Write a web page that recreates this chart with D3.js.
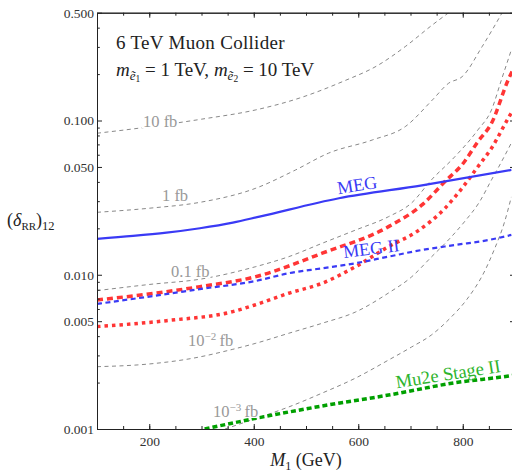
<!DOCTYPE html>
<html>
<head>
<meta charset="utf-8">
<script src="https://cdn.jsdelivr.net/npm/d3@7"></script>
<style>
body { margin: 0; background: #fff; }
svg { display: block; font-family: "Liberation Serif", "DejaVu Serif", serif; }
</style>
</head>
<body>
<svg width="512" height="474"></svg>
<script>
// cross section contours (fb), M1 in GeV vs (delta_RR)_12
var m10fb = [100, 200, 300, 404, 487, 570, 639, 690, 742, 780];
var v10fb = [0.0827, 0.091, 0.102, 0.1172, 0.1396, 0.1788, 0.2294, 0.3016, 0.417, 0.52];

var m1fb = [100, 200, 300, 404, 480, 543, 627, 690, 742, 773, 799, 837, 875];
var v1fb = [0.0254, 0.027, 0.0296, 0.0364, 0.0478, 0.0614, 0.0748, 0.0913, 0.136, 0.1745, 0.1926, 0.301, 0.497];

var m01fb = [100, 200, 300, 404, 467, 531, 595, 658, 702, 740, 785, 829, 855, 874, 893];
var v01fb = [0.00789, 0.00865, 0.00939, 0.01129, 0.0131, 0.016, 0.0195, 0.0238, 0.0292, 0.0412, 0.0583, 0.0869, 0.1172, 0.1834, 0.287];

var m001fb = [100, 200, 283, 360, 404, 467, 531, 595, 658, 702, 740, 778, 803, 832, 855, 874, 893];
var v001fb = [0.002535, 0.00264, 0.002874, 0.003287, 0.003596, 0.004175, 0.004849, 0.005739, 0.007621, 0.00968, 0.01304, 0.01759, 0.022, 0.02966, 0.0412, 0.0539, 0.0715];

var m0001fb = [345, 404, 467, 531, 595, 658, 702, 740, 778, 807, 843, 860, 880, 893];
var v0001fb = [0.001, 0.00117, 0.00139, 0.00171, 0.00214, 0.0028, 0.0034, 0.00407, 0.00532, 0.00686, 0.01074, 0.01448, 0.022, 0.03195];

// red dotted curves
var mRedA = [100, 233, 297, 404, 531, 658, 722, 766, 801, 829, 855, 887, 895];
var vRedA = [0.00686, 0.00777, 0.00837, 0.00972, 0.01379, 0.02051, 0.02836, 0.0402, 0.05285, 0.073, 0.096, 0.1834, 0.21];
var mRedB = [100, 233, 360, 404, 467, 531, 595, 658, 712, 766, 801, 829, 855, 887, 895];
var vRedB = [0.00461, 0.00504, 0.00577, 0.0064, 0.00759, 0.00881, 0.01129, 0.01521, 0.01903, 0.027, 0.0373, 0.0502, 0.0661, 0.1035, 0.115];

// experimental bounds
var mMEG = [100, 169, 233, 297, 360, 411, 563, 722, 893];
var vMEG = [0.0171, 0.01785, 0.01875, 0.02003, 0.02177, 0.02381, 0.03134, 0.038, 0.0478];
var mMEG2 = [100, 200, 300, 404, 467, 531, 595, 658, 722, 786, 850, 893];
var vMEG2 = [0.00647, 0.00722, 0.0081, 0.00912, 0.01023, 0.01102, 0.01188, 0.01311, 0.01448, 0.01561, 0.01681, 0.01812];
var mMu2e = [306, 404, 531, 658, 786, 888, 900];
var vMu2e = [0.001, 0.001173, 0.00141, 0.00166, 0.001997, 0.002207, 0.00224];

// ticks
var xMajor = [200, 400, 600, 800];
var xMinor = d3.range(100, 901, 50);
var yMajor = [0.001, 0.005, 0.01, 0.05, 0.1, 0.5];
var yMinor = [0.002, 0.003, 0.004, 0.006, 0.007, 0.008, 0.009, 0.02, 0.03, 0.04, 0.06, 0.07, 0.08, 0.09, 0.2, 0.3, 0.4];

(function() {
    var svg = d3.select("svg");
    var pLeft = 97, pRight = 515, pTop = 12.7, pBottom = 429;

    var x = d3.scaleLinear().domain([100, 900]).range([pLeft, pRight]);
    var y = d3.scaleLog().domain([0.001, 0.5]).range([pBottom, pTop]);

    svg.append("clipPath").attr("id", "plot")
        .append("rect").attr("x", pLeft).attr("y", pTop)
        .attr("width", pRight - pLeft).attr("height", pBottom - pTop);

    function pairs(ms, vs) { return ms.map(function(m, i) { return [m, vs[i]]; }); }

    var line = d3.line()
        .x(function(d) { return x(d[0]); })
        .y(function(d) { return y(d[1]); })
        .curve(d3.curveMonotoneX);

    var g = svg.append("g").attr("clip-path", "url(#plot)");

    // gray contours
    [[m10fb, v10fb], [m1fb, v1fb], [m01fb, v01fb], [m001fb, v001fb], [m0001fb, v0001fb]].forEach(function(c) {
        g.append("path").datum(pairs(c[0], c[1]))
            .attr("d", line).attr("fill", "none")
            .attr("stroke", "#7a7a7a").attr("stroke-width", 0.9)
            .attr("stroke-dasharray", "4,3.5");
    });

    // labels of the contours, with white box behind
    function contourLabel(px, py, base, exp) {
        var t = svg.append("text").attr("x", px).attr("y", py)
            .attr("font-size", 16.5).attr("fill", "#999");
        t.append("tspan").text(base);
        if (exp) {
            t.append("tspan").attr("dy", -6).attr("font-size", 11).text(exp);
            t.append("tspan").attr("dy", 6).text("\u2009fb");
        } else {
            t.append("tspan").text(" fb");
        }
        var b = t.node().getBBox();
        svg.insert("rect", function() { return t.node(); })
            .attr("x", b.x - 1).attr("y", b.y + 3).attr("width", b.width + 2).attr("height", b.height - 6)
            .attr("fill", "#fff");
    }

    // red dotted
    g.append("path").datum(pairs(mRedA, vRedA)).attr("d", line).attr("fill", "none")
        .attr("stroke", "#ff3535").attr("stroke-width", 3.5).attr("stroke-dasharray", "6,4");
    g.append("path").datum(pairs(mRedB, vRedB)).attr("d", line).attr("fill", "none")
        .attr("stroke", "#ff3535").attr("stroke-width", 3.5).attr("stroke-dasharray", "3.5,4");

    // MEG, MEG II, Mu2e
    g.append("path").datum(pairs(mMEG, vMEG)).attr("d", line).attr("fill", "none")
        .attr("stroke", "#3a3af5").attr("stroke-width", 2.2);
    g.append("path").datum(pairs(mMEG2, vMEG2)).attr("d", line).attr("fill", "none")
        .attr("stroke", "#3a3af5").attr("stroke-width", 2.2).attr("stroke-dasharray", "5,3.5");
    g.append("path").datum(pairs(mMu2e, vMu2e)).attr("d", line).attr("fill", "none")
        .attr("stroke", "#00a000").attr("stroke-width", 3.5).attr("stroke-dasharray", "5,3");

    contourLabel(143, 127, "10");
    contourLabel(162, 201, "1");
    contourLabel(171, 277, "0.1");
    contourLabel(188, 346, "10", "\u22122");
    contourLabel(213, 417, "10", "\u22123");

    svg.append("text").attr("transform", "translate(358,191) rotate(-9)")
        .attr("text-anchor", "middle").attr("font-size", 18).attr("fill", "#3a3af5").text("MEG");
    svg.append("text").attr("transform", "translate(372,254.5) rotate(-7)")
        .attr("text-anchor", "middle").attr("font-size", 18).attr("fill", "#3a3af5").text("MEG II");
    svg.append("text").attr("transform", "translate(449,380) rotate(-9)")
        .attr("text-anchor", "middle").attr("font-size", 18.5).attr("fill", "#2db42d").text("Mu2e Stage II");

    // axes: ticks point inward
    function tickAxesY(vals, len, labels) {
        var fmt = labels ? d3.format(".3f") : function() { return ""; };
        svg.append("g").attr("transform", "translate(" + pLeft + ",0)")
            .call(d3.axisLeft(y).tickValues(vals).tickSizeInner(-len).tickSizeOuter(0).tickPadding(3).tickFormat(fmt));
        svg.append("g").attr("transform", "translate(" + pRight + ",0)")
            .call(d3.axisRight(y).tickValues(vals).tickSizeInner(-len).tickSizeOuter(0).tickFormat(""));
    }
    function tickAxesX(vals, len, labels) {
        svg.append("g").attr("transform", "translate(0," + pBottom + ")")
            .call(d3.axisBottom(x).tickValues(vals).tickSizeInner(-len).tickSizeOuter(0).tickPadding(7)
                .tickFormat(labels ? d3.format("d") : ""));
        svg.append("g").attr("transform", "translate(0," + pTop + ")")
            .call(d3.axisTop(x).tickValues(vals).tickSizeInner(-len).tickSizeOuter(0).tickFormat(""));
    }
    tickAxesY(yMinor, 2.8, false);
    tickAxesY(yMajor, 5, true);
    tickAxesX(xMinor, 3, false);
    tickAxesX(xMajor, 5, true);

    svg.selectAll(".domain").attr("stroke", "#222");
    svg.selectAll(".tick line").attr("stroke", "#222");
    svg.selectAll(".tick text").attr("font-family", "Liberation Serif").attr("font-size", 13.5).attr("fill", "#333");

    // title
    svg.append("text").attr("x", 116).attr("y", 48.5).attr("font-size", 19).attr("fill", "#222")
        .attr("letter-spacing", 0.3).text("6 TeV Muon Collider");
    var t2 = svg.append("text").attr("x", 116).attr("y", 76).attr("font-size", 19).attr("fill", "#222");
    [["1", " = 1 TeV, "], ["2", " = 10 TeV"]].forEach(function(p) {
        t2.append("tspan").attr("font-style", "italic").text("m");
        t2.append("tspan").attr("font-style", "italic").attr("font-size", 13).attr("dy", 4).text("\u1EBD");
        t2.append("tspan").attr("font-size", 9.5).attr("dy", 2).text(p[0]);
        t2.append("tspan").attr("dy", -6).text(p[1]);
    });

    // axis labels
    var xl = svg.append("text").attr("x", 306).attr("y", 466).attr("text-anchor", "middle")
        .attr("font-size", 18).attr("fill", "#222");
    xl.append("tspan").attr("font-style", "italic").text("M");
    xl.append("tspan").attr("font-size", 12).attr("dy", 4).text("1");
    xl.append("tspan").attr("dy", -4).text(" (GeV)");

    var yl = svg.append("text").attr("x", 7).attr("y", 226).attr("font-size", 18).attr("fill", "#222");
    yl.append("tspan").text("(");
    yl.append("tspan").attr("font-style", "italic").text("\u03B4");
    yl.append("tspan").attr("font-size", 11).attr("dy", 4).text("RR");
    yl.append("tspan").attr("dy", -4).text(")");
    yl.append("tspan").attr("font-size", 12.5).attr("dy", 4).text("12");
})();
</script>
</body>
</html>
